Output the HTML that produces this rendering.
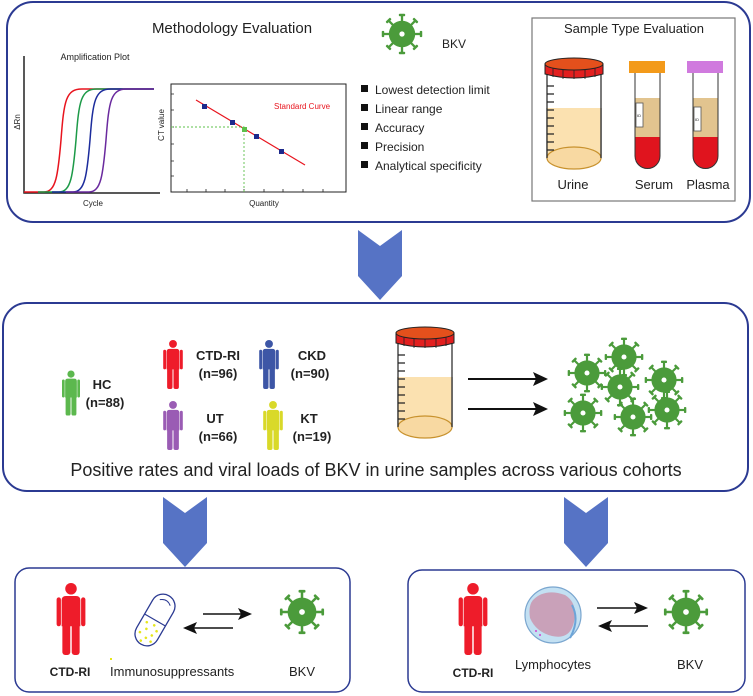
<!DOCTYPE html>
<html><head><meta charset="utf-8"><style>
html,body{margin:0;padding:0;background:#fff;}
svg{display:block;}
text{font-family:"Liberation Sans",Arial,sans-serif;fill:#222;}
</style></head><body>
<svg width="753" height="696" viewBox="0 0 753 696" xmlns="http://www.w3.org/2000/svg">
<defs>
<symbol id="person" viewBox="0 0 20 50">
<circle cx="10" cy="4" r="4"/>
<path d="M3.5 12 Q3.5 9 6.5 9 L13.5 9 Q16.5 9 16.5 12 L16.5 30 L3.5 30 Z"/>
<rect x="0" y="10" width="3" height="20" rx="1.5"/>
<rect x="17" y="10" width="3" height="20" rx="1.5"/>
<rect x="4" y="28" width="5.5" height="22" rx="2"/>
<rect x="10.5" y="28" width="5.5" height="22" rx="2"/>
</symbol>
<g id="sp"><rect x="-1.3" y="-21" width="2.6" height="8"/><rect x="-3.6" y="-23" width="7.2" height="2.8" rx="1"/></g>
<symbol id="virus" viewBox="-25 -25 50 50">
<g fill="#4b9b3b">
<circle r="15"/>
<use href="#sp"/><use href="#sp" transform="rotate(45)"/><use href="#sp" transform="rotate(90)"/><use href="#sp" transform="rotate(135)"/>
<use href="#sp" transform="rotate(180)"/><use href="#sp" transform="rotate(225)"/><use href="#sp" transform="rotate(270)"/><use href="#sp" transform="rotate(315)"/>
</g>
<circle r="3" fill="#fff"/>
</symbol>
<g id="jar">
<rect x="2" y="14" width="54" height="86" fill="#fff" stroke="#222" stroke-width="1.2"/>
<rect x="2.6" y="50" width="52.8" height="50" fill="#fbe1b0"/>
<ellipse cx="29" cy="100" rx="27" ry="11" fill="#f8d9a2" stroke="#c8922e" stroke-width="1.2"/>
<path d="M2 50 V100 M56 50 V100" stroke="#222" stroke-width="1.2"/>
<g stroke="#222" stroke-width="1.2"><path d="M2 28h7M2 36h7M2 44h7M2 52h7M2 60h7M2 68h7M2 76h7M2 84h7M2 92h7"/></g>
<path d="M0 6 V16 Q29 24 58 16 V6 Z" fill="#e21f1f" stroke="#222" stroke-width="1"/>
<g stroke="#222" stroke-width="0.8"><path d="M8 10v9M18 12v9M29 12v9M40 12v9M50 10v9"/></g>
<ellipse cx="29" cy="6" rx="29" ry="6" fill="#e4501c" stroke="#222" stroke-width="1"/>
</g>
</defs>

<!-- Top box -->
<rect x="7" y="2" width="743" height="220" rx="26" fill="none" stroke="#2b3a92" stroke-width="2"/>
<text x="232" y="33" font-size="15" text-anchor="middle">Methodology Evaluation</text>
<text x="95" y="60" font-size="9" text-anchor="middle">Amplification Plot</text>
<path d="M24 56 V193 H160" fill="none" stroke="#222" stroke-width="1.5"/>
<text x="20" y="122" font-size="8" text-anchor="middle" transform="rotate(-90 20 122)">ΔRn</text>
<text x="93" y="206" font-size="8" text-anchor="middle">Cycle</text>
<g fill="none" stroke-width="1.5">
<path d="M24 192 L44 192 C56 192 58 175 61 140 C64 100 66 89 82 89 L154 89" stroke="#e8141e"/>
<path d="M38 192 L59 192 C71 192 73 175 76 140 C79 100 81 89 97 89 L154 89" stroke="#1d9a48"/>
<path d="M52 192 L73 192 C85 192 87 175 90 140 C93 100 95 89 111 89 L154 89" stroke="#1c2c9c"/>
<path d="M66 192 L89 192 C101 192 103 175 106 140 C109 100 111 89 127 89 L154 89" stroke="#6a2a9e"/>
</g>
<rect x="171" y="84" width="175" height="108" fill="#fff" stroke="#222" stroke-width="1"/>
<g stroke="#222" stroke-width="0.8"><path d="M171 94h3M171 110h3M171 127h3M171 144h3M171 161h3M171 176h3M187 192v-3M206 192v-3M225 192v-3M244 192v-3M264 192v-3M283 192v-3M303 192v-3M323 192v-3"/></g>
<path d="M196 100 L305 165" stroke="#e8141e" stroke-width="1.2"/>
<path d="M171 127 H244 V192" fill="none" stroke="#5cc04a" stroke-width="0.9" stroke-dasharray="2,2"/>
<g fill="#1d2a8c"><rect x="202" y="104" width="5" height="5"/><rect x="230" y="120" width="5" height="5"/><rect x="254" y="134" width="5" height="5"/><rect x="279" y="149" width="5" height="5"/></g>
<rect x="242" y="127" width="5" height="5" fill="#5cc04a"/>
<text x="302" y="109" font-size="8" text-anchor="middle" style="fill:#e8141e">Standard Curve</text>
<text x="164" y="125" font-size="8" text-anchor="middle" transform="rotate(-90 164 125)">CT value</text>
<text x="264" y="206" font-size="8" text-anchor="middle">Quantity</text>

<use href="#virus" x="380" y="12" width="44" height="44"/>
<text x="442" y="48" font-size="12">BKV</text>
<g fill="#111"><rect x="361" y="85" width="7" height="7"/><rect x="361" y="104" width="7" height="7"/><rect x="361" y="123" width="7" height="7"/><rect x="361" y="142" width="7" height="7"/><rect x="361" y="161" width="7" height="7"/></g>
<g font-size="12"><text x="375" y="94">Lowest detection limit</text><text x="375" y="113">Linear range</text><text x="375" y="132">Accuracy</text><text x="375" y="151">Precision</text><text x="375" y="170">Analytical specificity</text></g>

<rect x="532" y="18" width="203" height="183" fill="none" stroke="#777" stroke-width="1.2"/>
<text x="634" y="33" font-size="13" text-anchor="middle">Sample Type Evaluation</text>
<use href="#jar" x="545" y="58"/>
<!-- Serum tube -->
<path d="M635 73 V156 A12.5 12.5 0 0 0 660 156 V73" fill="#fff"/>
<rect x="635" y="98" width="25" height="39" fill="#e2c48f"/>
<path d="M635 137 H660 V156 A12.5 12.5 0 0 1 635 156 Z" fill="#e0141e"/>
<path d="M635 73 V156 A12.5 12.5 0 0 0 660 156 V73" fill="none" stroke="#333" stroke-width="1"/>
<rect x="636" y="103" width="7" height="24" fill="#fff" stroke="#555" stroke-width="0.8"/>
<text x="637" y="117" font-size="4">ID</text>
<rect x="629" y="61" width="36" height="12" fill="#f39a1a"/>
<!-- Plasma tube -->
<path d="M693 73 V156 A12.5 12.5 0 0 0 718 156 V73" fill="#fff"/>
<rect x="693" y="98" width="25" height="39" fill="#e2c48f"/>
<path d="M693 137 H718 V156 A12.5 12.5 0 0 1 693 156 Z" fill="#e0141e"/>
<path d="M693 73 V156 A12.5 12.5 0 0 0 718 156 V73" fill="none" stroke="#333" stroke-width="1"/>
<rect x="694" y="107" width="7" height="24" fill="#fff" stroke="#555" stroke-width="0.8"/>
<text x="695" y="121" font-size="4">ID</text>
<rect x="687" y="61" width="36" height="12" fill="#d07ade"/>
<g font-size="13" text-anchor="middle"><text x="573" y="189">Urine</text><text x="654" y="189">Serum</text><text x="708" y="189">Plasma</text></g>

<!-- chevrons -->
<g fill="#5673c5">
<path d="M358 230 L380 246 L402 230 L402 276 L380 300 L358 276 Z"/>
<path d="M163 497 L185 513 L207 497 L207 543 L185 567 L163 543 Z"/>
<path d="M564 497 L586 513 L608 497 L608 543 L586 567 L564 543 Z"/>
</g>

<!-- Middle box -->
<rect x="3" y="303" width="745" height="188" rx="24" fill="none" stroke="#2b3a92" stroke-width="2"/>
<use href="#person" x="62" y="369" width="18" height="48" fill="#5cb84e"/>
<use href="#person" x="163" y="340" width="20" height="49" fill="#ee1c2a"/>
<use href="#person" x="259" y="340" width="20" height="49" fill="#3d56a6"/>
<use href="#person" x="163" y="401" width="20" height="49" fill="#9a5cb4"/>
<use href="#person" x="263" y="401" width="20" height="49" fill="#d9d929"/>
<g font-size="13" font-weight="bold" text-anchor="middle">
<text x="102" y="389">HC</text><text x="105" y="407">(n=88)</text>
<text x="218" y="360">CTD-RI</text><text x="218" y="378">(n=96)</text>
<text x="312" y="360">CKD</text><text x="310" y="378">(n=90)</text>
<text x="215" y="423">UT</text><text x="218" y="441">(n=66)</text>
<text x="309" y="423">KT</text><text x="312" y="441">(n=19)</text>
</g>
<use href="#jar" x="396" y="327"/>
<g stroke="#111" stroke-width="2"><path d="M468 379 H536 M468 409 H536"/></g>
<g fill="#111"><path d="M548 379 L533 372 L536 379 L533 386 Z"/><path d="M548 409 L533 402 L536 409 L533 416 Z"/></g>
<use href="#virus" x="566" y="352" width="42" height="42"/>
<use href="#virus" x="603" y="336" width="42" height="42"/>
<use href="#virus" x="599" y="366" width="42" height="42"/>
<use href="#virus" x="643" y="359" width="42" height="42"/>
<use href="#virus" x="562" y="392" width="42" height="42"/>
<use href="#virus" x="612" y="396" width="42" height="42"/>
<use href="#virus" x="646" y="389" width="42" height="42"/>
<text x="376" y="476" font-size="18" text-anchor="middle">Positive rates and viral loads of BKV in urine samples across various cohorts</text>

<!-- Bottom left -->
<rect x="15" y="568" width="335" height="124" rx="14" fill="none" stroke="#2b3a92" stroke-width="1.5"/>
<use href="#person" x="56" y="583" width="30" height="72" fill="#ee1c2a"/>
<g transform="translate(155,620) rotate(30)">
<rect x="-12" y="-28" width="24" height="56" rx="12" fill="#fff" stroke="#2b3a92" stroke-width="1.3"/>
<line x1="-12" y1="0" x2="12" y2="0" stroke="#2b3a92" stroke-width="1.2"/>
<path d="M-6 -20 Q0 -25 6 -20" fill="none" stroke="#2b3a92" stroke-width="1"/>
<g fill="#e6e61c"><circle cx="-6" cy="6" r="1.3"/><circle cx="2" cy="5" r="1.3"/><circle cx="7" cy="9" r="1.3"/><circle cx="-3" cy="12" r="1.3"/><circle cx="5" cy="15" r="1.3"/><circle cx="-7" cy="18" r="1.3"/><circle cx="1" cy="20" r="1.3"/><circle cx="-2" cy="25" r="1.3"/><circle cx="7" cy="21" r="1.3"/></g>
</g>
<g stroke="#111" stroke-width="1.5"><path d="M203 614 H242 M193 628 H233"/></g>
<g fill="#111"><path d="M252 614 L238 608 L241 614 L238 620 Z"/><path d="M183 628 L197 622 L194 628 L197 634 Z"/></g>
<use href="#virus" x="278" y="588" width="48" height="48"/>
<rect x="110" y="658" width="2" height="2" fill="#e6e61c"/>
<text x="70" y="676" font-size="12" font-weight="bold" text-anchor="middle">CTD-RI</text>
<text x="110" y="676" font-size="13">Immunosuppressants</text>
<text x="302" y="676" font-size="13" text-anchor="middle">BKV</text>

<!-- Bottom right -->
<rect x="408" y="570" width="337" height="122" rx="14" fill="none" stroke="#2b3a92" stroke-width="1.5"/>
<use href="#person" x="458" y="583" width="30" height="72" fill="#ee1c2a"/>
<ellipse cx="553" cy="615" rx="28" ry="28" fill="#c3e0f2" stroke="#7aa6cf" stroke-width="1.2"/>
<path d="M533 600 Q545 588 565 595 Q578 603 574 622 Q570 640 552 636 Q536 632 530 618 Q528 606 533 600 Z" fill="#c9a1b9"/>
<path d="M572 605 Q580 620 570 638" fill="none" stroke="#6ca4d8" stroke-width="2"/>
<circle cx="536" cy="631" r="1" fill="#d040d0"/><circle cx="540" cy="635" r="1" fill="#d040d0"/>
<g stroke="#111" stroke-width="1.5"><path d="M597 608 H638 M608 626 H648"/></g>
<g fill="#111"><path d="M648 608 L634 602 L637 608 L634 614 Z"/><path d="M598 626 L612 620 L609 626 L612 632 Z"/></g>
<use href="#virus" x="662" y="588" width="48" height="48"/>
<text x="473" y="677" font-size="12" font-weight="bold" text-anchor="middle">CTD-RI</text>
<text x="553" y="669" font-size="13" text-anchor="middle">Lymphocytes</text>
<text x="690" y="669" font-size="13" text-anchor="middle">BKV</text>
</svg>
</body></html>
